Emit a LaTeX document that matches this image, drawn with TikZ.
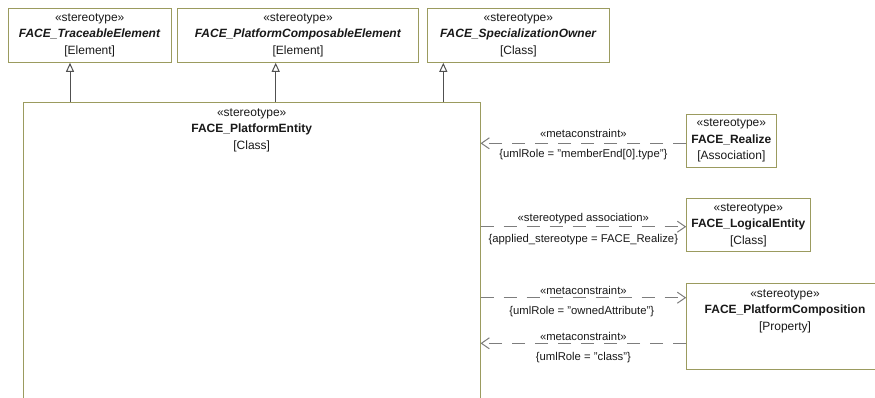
\documentclass[tikz,border=0pt]{standalone}
\usepackage{fontspec}
\setmainfont{Liberation Sans}
\usetikzlibrary{arrows.meta}
\definecolor{boxc}{RGB}{155,155,95}
\definecolor{genc}{RGB}{80,80,80}
\definecolor{depc}{RGB}{125,125,125}
\definecolor{txt}{RGB}{25,25,25}
\begin{document}
\begin{tikzpicture}[x=1pt,y=-1pt,
  box/.style={draw=boxc, line width=1pt, fill=white, inner sep=0pt, align=center, text=txt, font=\fontsize{12}{16.5}\selectfont},
  boxtext/.style={inner sep=0pt, align=center, text=txt, font=\fontsize{12}{16.5}\selectfont},
  lbl/.style={font=\fontsize{11.3}{13}\selectfont, text=txt, inner sep=0pt},
  gen/.style={draw=genc, line width=1pt, -{Triangle[open, length=9pt, width=8pt]}},
  dep/.style={draw=depc, line width=1pt, dash pattern=on 13pt off 10pt, -{Straight Barb[length=8pt, width=11pt]}}]
\useasboundingbox (0,0) rectangle (875,397);
\clip (0,0) rectangle (875,397);

% top boxes
\node[box, minimum width=162.7pt, minimum height=54pt] (trace) at (89.7,35.3)
  {«stereotype»\\\textbf{\textit{FACE\_TraceableElement}}\\{[Element]}};
\node[box, minimum width=240.6pt, minimum height=54pt] (comp) at (298,35.3)
  {«stereotype»\\\textbf{\textit{FACE\_PlatformComposableElement}}\\{[Element]}};
\node[box, minimum width=181.3pt, minimum height=54pt] (spec) at (518.35,35.3)
  {«stereotype»\\\textbf{\textit{FACE\_SpecializationOwner}}\\{[Class]}};

% main box
\node[box, minimum width=456.7pt, minimum height=317.7pt] (main) at (251.65,261.15) {};
\node[boxtext] (mainT) at (251.7,130)
  {«stereotype»\\\textbf{FACE\_PlatformEntity}\\{[Class]}};

% right boxes
\node[box, minimum width=89.3pt, minimum height=53.3pt] (realize) at (731.35,140.7)
  {«stereotype»\\\textbf{FACE\_Realize}\\{[Association]}};
\node[box, minimum width=123.3pt, minimum height=53pt] (logical) at (748.35,225.2)
  {«stereotype»\\\textbf{FACE\_LogicalEntity}\\{[Class]}};
\node[box, minimum width=196.3pt, minimum height=85.7pt] (pcomp) at (784.85,326.15) {};
\node[boxtext] (pcompT) at (785,311)
  {«stereotype»\\\textbf{FACE\_PlatformComposition}\\{[Property]}};

% generalizations
\draw[gen] (main.north -| 70,0) -- (trace.south -| 70,0);
\draw[gen] (main.north -| 275.7,0) -- (comp.south -| 275.7,0);
\draw[gen] (main.north -| 443.3,0) -- (spec.south -| 443.3,0);

% dependencies
\draw[dep] (realize.west |- 0,143.3) -- (main.east |- 0,143.3)
  node[lbl, midway, yshift=10pt] (l1a) {«metaconstraint»}
  node[lbl, midway, yshift=-11.7pt] (l1b) {\{umlRole = "memberEnd[0].type"\}};
\draw[dep] (main.east |- 0,226.7) -- (logical.west |- 0,226.7)
  node[lbl, midway, yshift=8.4pt] (l2a) {«stereotyped association»}
  node[lbl, midway, yshift=-13.3pt] (l2b) {\{applied\_stereotype = FACE\_Realize\}};
\draw[dep] (main.east |- 0,297.7) -- (pcomp.west |- 0,297.7)
  node[lbl, midway, yshift=7.7pt] (l3a) {«metaconstraint»}
  node[lbl, midway, xshift=-1.6pt, yshift=-14pt] (l3b) {\{umlRole = "ownedAttribute"\}};
\draw[dep] (pcomp.west |- 0,343.3) -- (main.east |- 0,343.3)
  node[lbl, midway, yshift=7.3pt] (l4a) {«metaconstraint»}
  node[lbl, midway, yshift=-14pt] (l4b) {\{umlRole = "class"\}};
\end{tikzpicture}
\end{document}
